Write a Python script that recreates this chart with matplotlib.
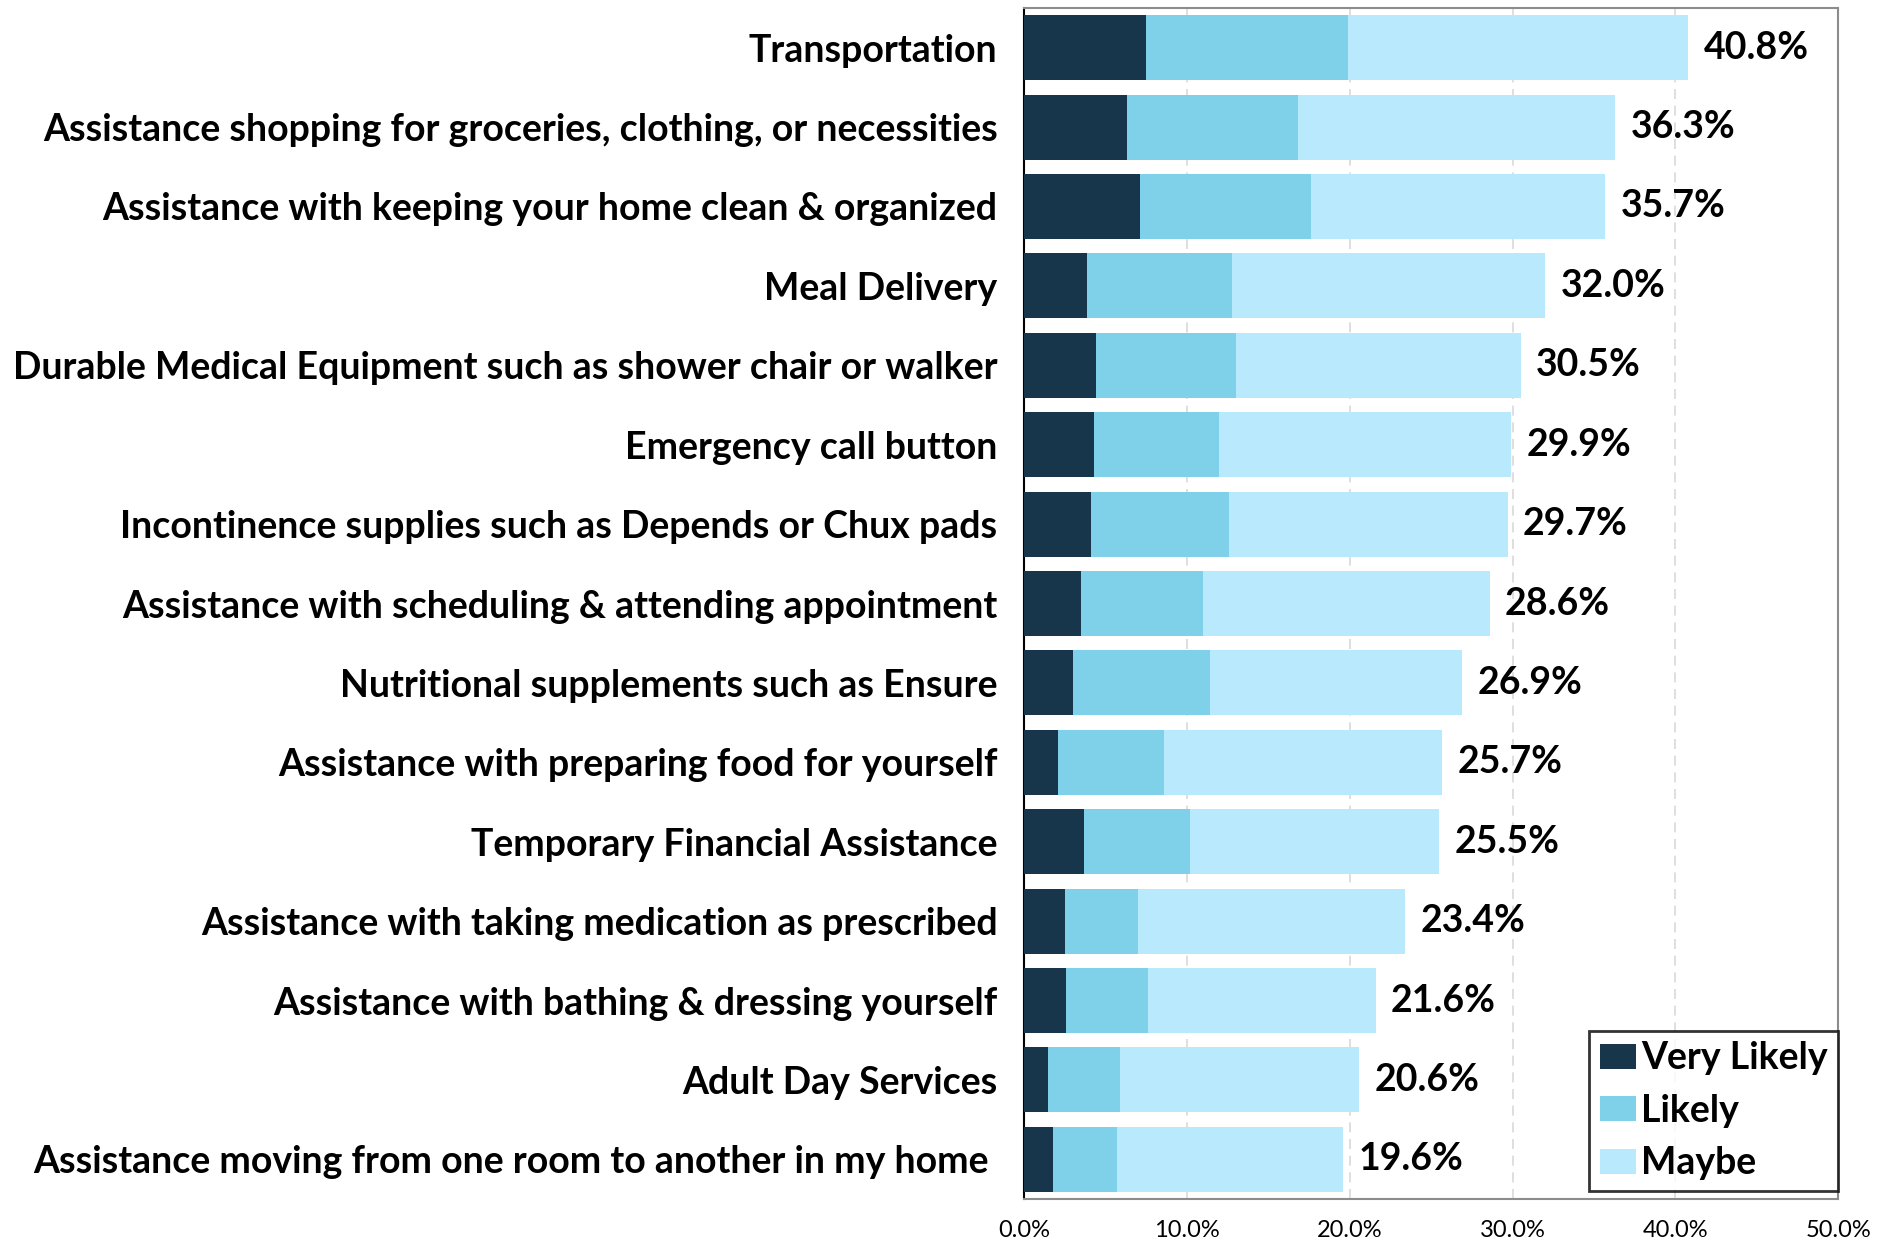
import numpy as np
import matplotlib
matplotlib.use("Agg")
import matplotlib.pyplot as plt

# services, top to bottom
services = [
    "Transportation",
    "Assistance shopping for groceries, clothing, or necessities",
    "Assistance with keeping your home clean & organized",
    "Meal Delivery",
    "Durable Medical Equipment such as shower chair or walker",
    "Emergency call button",
    "Incontinence supplies such as Depends or Chux pads",
    "Assistance with scheduling & attending appointment",
    "Nutritional supplements such as Ensure",
    "Assistance with preparing food for yourself",
    "Temporary Financial Assistance",
    "Assistance with taking medication as prescribed",
    "Assistance with bathing & dressing yourself",
    "Adult Day Services",
    "Assistance moving from one room to another in my home ",
]

# percentages
very_likely = [7.5, 6.3, 7.1, 3.9, 4.4, 4.3, 4.1, 3.5, 3.0, 2.1, 3.7, 2.5, 2.6, 1.5, 1.8]
likely = [12.4, 10.5, 10.5, 8.9, 8.6, 7.7, 8.5, 7.5, 8.4, 6.5, 6.5, 4.5, 5.0, 4.4, 3.9]
totals = [40.8, 36.3, 35.7, 32.0, 30.5, 29.9, 29.7, 28.6, 26.9, 25.7, 25.5, 23.4, 21.6, 20.6, 19.6]
maybe = [round(t - v - l, 1) for t, v, l in zip(totals, very_likely, likely)]

x_ticks = [0, 10, 20, 30, 40, 50]
x_tick_labels = ["0.0%", "10.0%", "20.0%", "30.0%", "40.0%", "50.0%"]

c_vl = "#17364b"
c_l = "#7fd0e9"
c_m = "#b9e9fd"

font = "Lato"

fig = plt.figure(figsize=(18.85, 12.46), dpi=100)
ax = fig.add_axes([0.5432, 0.0377, 0.4320, 0.9559])

y = np.arange(len(services))
h = 0.82
ax.barh(y, very_likely, height=h, color=c_vl, label="Very Likely", zorder=3)
ax.barh(y, likely, height=h, left=very_likely, color=c_l, label="Likely", zorder=3)
left_m = np.array(very_likely) + np.array(likely)
ax.barh(y, maybe, height=h, left=left_m, color=c_m, label="Maybe", zorder=3)

for yi, t in zip(y, totals):
    ax.annotate(f"{t:.1f}%", xy=(t, yi), xytext=(11, 0), textcoords="offset points",
                ha="left", va="center", fontsize=27, fontweight="bold",
                family=font, color="black")

ax.set_xlim(0, 50)
ax.set_ylim(14.5, -0.5)
ax.set_yticks(y)
ax.set_yticklabels(services, fontsize=27, fontweight="bold", family=font)
ax.set_xticks(x_ticks)
ax.set_xticklabels(x_tick_labels, fontsize=17, family=font)
ax.tick_params(axis="y", length=0, pad=19)
ax.tick_params(axis="x", length=0, pad=15)

ax.xaxis.grid(True, linestyle=(0, (6, 4)), color="#d9d9d9", linewidth=1.2, zorder=0)
ax.set_axisbelow(True)

ax.spines["left"].set_color("black")
ax.spines["left"].set_linewidth(1.5)
for s in ["top", "right", "bottom"]:
    ax.spines[s].set_color("#8c8c8c")
    ax.spines[s].set_linewidth(1.5)

leg = ax.legend(loc="lower right", bbox_to_anchor=(1.0, 0.007), borderaxespad=0,
                frameon=True, fancybox=False, edgecolor="black",
                handlelength=0.95, handleheight=0.65, handletextpad=0.15,
                labelspacing=0.49, borderpad=0.28,
                prop={"family": font, "weight": "bold", "size": 27})
leg.get_frame().set_linewidth(2)

plt.savefig("out.png", dpi=100)
